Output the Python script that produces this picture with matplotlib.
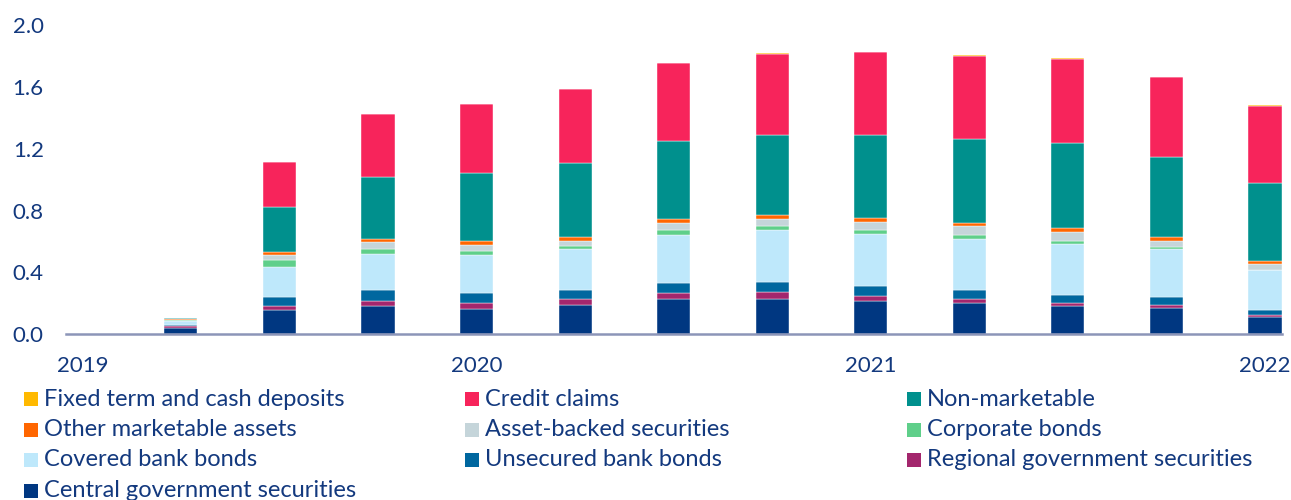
import matplotlib
matplotlib.use("Agg")
import matplotlib.pyplot as plt
from matplotlib.patches import Rectangle
import numpy as np

# quarter-end positions (decimal years)
periods = [2019.25, 2019.5, 2019.75, 2020.0, 2020.25, 2020.5,
           2020.75, 2021.0, 2021.25, 2021.5, 2021.75, 2022.0]
year_ticks = [2019, 2020, 2021, 2022]
year_labels = ["2019", "2020", "2021", "2022"]

# stacked components, bottom to top (EUR tn)
central_gov = [0.040, 0.153, 0.179, 0.162, 0.188, 0.227, 0.230, 0.214, 0.201, 0.179, 0.166, 0.108]
regional_gov = [0.010, 0.028, 0.034, 0.036, 0.036, 0.040, 0.042, 0.034, 0.026, 0.022, 0.024, 0.013]
unsecured_bank = [0.006, 0.058, 0.074, 0.067, 0.063, 0.063, 0.062, 0.065, 0.060, 0.055, 0.047, 0.032]
covered_bank = [0.028, 0.197, 0.231, 0.248, 0.265, 0.315, 0.337, 0.336, 0.332, 0.330, 0.315, 0.259]
corporate = [0.005, 0.045, 0.034, 0.026, 0.021, 0.030, 0.026, 0.026, 0.022, 0.020, 0.009, 0.004]
abs_sec = [0.004, 0.030, 0.043, 0.039, 0.033, 0.043, 0.049, 0.054, 0.060, 0.058, 0.043, 0.041]
other_mkt = [0.003, 0.020, 0.020, 0.026, 0.022, 0.026, 0.026, 0.022, 0.021, 0.024, 0.024, 0.017]
non_mkt = [0.005, 0.295, 0.405, 0.442, 0.479, 0.505, 0.520, 0.539, 0.544, 0.548, 0.518, 0.505]
credit_claims = [0.003, 0.291, 0.406, 0.447, 0.479, 0.505, 0.520, 0.535, 0.537, 0.548, 0.517, 0.501]
fixed_term = [0.000, 0.000, 0.000, 0.000, 0.000, 0.003, 0.007, 0.004, 0.005, 0.004, 0.004, 0.004]

series = [
    ("Central government securities", central_gov, "#003781"),
    ("Regional government securities", regional_gov, "#A3266D"),
    ("Unsecured bank bonds", unsecured_bank, "#00679F"),
    ("Covered bank bonds", covered_bank, "#BEE8FB"),
    ("Corporate bonds", corporate, "#5FCF8A"),
    ("Asset-backed securities", abs_sec, "#C5D5DA"),
    ("Other marketable assets", other_mkt, "#FF6600"),
    ("Non-marketable", non_mkt, "#00908D"),
    ("Credit claims", credit_claims, "#F7245B"),
    ("Fixed term and cash deposits", fixed_term, "#FFB900"),
]

text_color = "#13397E"
plt.rcParams["font.family"] = ["Lato", "DejaVu Sans"]

fig = plt.figure(figsize=(12.91, 5.0), dpi=100)
ax = fig.add_axes([0.0511, 0.332, 0.9419, 0.617])

bottom = np.zeros(len(periods))
for name, vals, color in series:
    ax.bar(periods, vals, width=0.084, bottom=bottom, color=color,
           edgecolor="white", linewidth=0.3)
    bottom += np.array(vals)

ax.set_xlim(2019 - 0.0416, 2022 + 0.043)
ax.set_ylim(0, 2.0)
ax.set_yticks([0.0, 0.4, 0.8, 1.2, 1.6, 2.0])
ax.set_yticklabels(["0.0", "0.4", "0.8", "1.2", "1.6", "2.0"])
ax.set_xticks(year_ticks)
ax.set_xticklabels(year_labels)
ax.tick_params(axis="both", length=0, labelsize=16, labelcolor=text_color)
ax.tick_params(axis="y", pad=16)
ax.tick_params(axis="x", pad=16)

for side in ["top", "right", "left"]:
    ax.spines[side].set_visible(False)
ax.spines["bottom"].set_color("#8C95B8")
ax.spines["bottom"].set_linewidth(1.8)

# legend laid out row by row, three columns
legend_order = list(reversed(series))
col_x = [24, 465, 907]
row_y = [399, 429.5, 460, 490.5]
W, H = 1291.0, 500.0
box = 14
for i, (name, vals, color) in enumerate(legend_order):
    r, c = divmod(i, 3)
    x0, yc = col_x[c], row_y[r]
    fig.add_artist(Rectangle((x0 / W, 1 - (yc + box / 2) / H), box / W, box / H,
                             transform=fig.transFigure, facecolor=color,
                             edgecolor="none"))
    fig.text((x0 + 20) / W, 1 - yc / H, name, fontsize=17, color=text_color,
             va="center", ha="left")

fig.savefig("out.png", dpi=100)
